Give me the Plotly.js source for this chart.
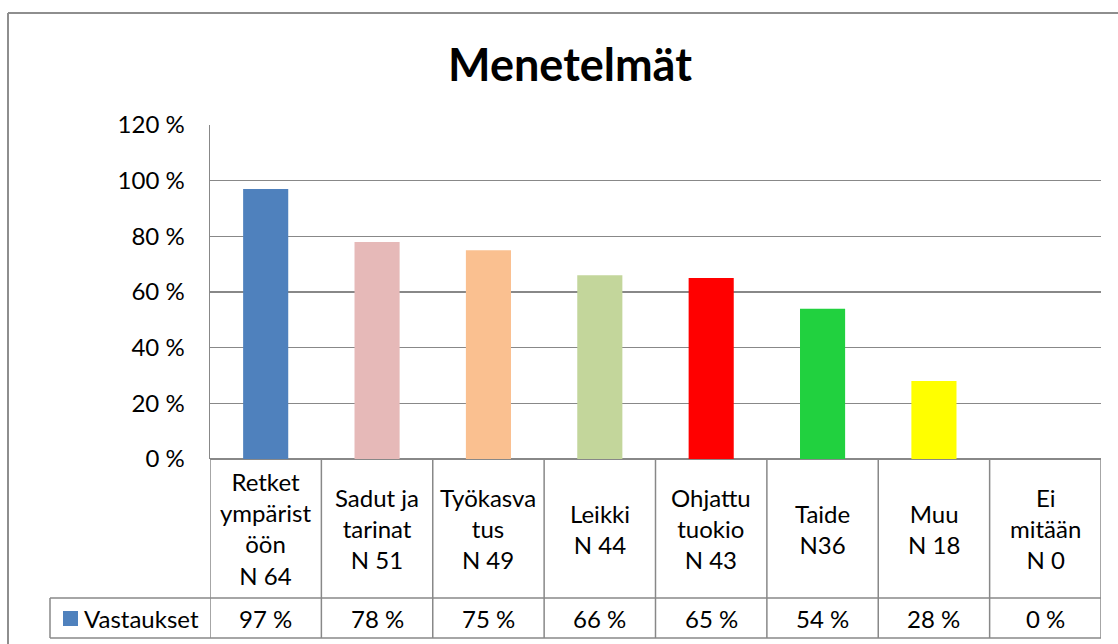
<!DOCTYPE html>
<html>
<head>
<meta charset="utf-8">
<script src="https://cdn.plot.ly/plotly-3.0.1.min.js"></script>
<style>html,body{margin:0;padding:0;background:#fff;}#chart{width:1118px;height:644px;}</style>
</head>
<body>
<div id="chart"></div>
<script>
const categories = ["Retket ympäristöön","Sadut ja tarinat","Työkasvatus","Leikki","Ohjattu tuokio","Taide","Muu","Ei mitään"];
const categoryLabels = ["Retket<br>ympärist<br>öön","Sadut ja<br>tarinat","Työkasva<br>tus","Leikki","Ohjattu<br>tuokio","Taide","Muu","Ei<br>mitään"];
const countLabels = ["N 64","N 51","N 49","N 44","N 43","N36","N 18","N 0"];
const values = [97,78,75,66,65,54,28,0];
const barColors = ["#4F81BD","#E6B9B8","#FAC090","#C3D69B","#FF0000","#21D13F","#FFFF00","#4F81BD"];
const seriesName = "Vastaukset";
const chartTitle = "Menetelmät";

const W = 1118, H = 644;
const L = 210, R = 1101, T = 125, B = 459;
const PX = p => (p - L) / (R - L);
const PY = p => (B - p) / (B - T);
const rowTop = B, rowMid = 598, rowBot = 638;
const lineCol = "#888888";
const font = "Lato, 'Open Sans', sans-serif";

const shapes = [];
const annotations = [];
// horizontal table lines
[rowMid, rowBot].forEach(p => shapes.push({type:"line", xref:"paper", yref:"paper", x0:PX(50), x1:1, y0:PY(p), y1:PY(p), line:{color:lineCol, width:1.5}}));
// vertical table lines
for (let i = 0; i <= categories.length; i++) {
  shapes.push({type:"line", xref:"x", yref:"paper", x0:i-0.5, x1:i-0.5, y0:PY(rowTop), y1:PY(rowBot), line:{color:lineCol, width:1.5}});
}
shapes.push({type:"line", xref:"paper", yref:"paper", x0:PX(50), x1:PX(50), y0:PY(rowMid), y1:PY(rowBot), line:{color:lineCol, width:1.5}});
// legend key
shapes.push({type:"rect", xref:"paper", yref:"paper", x0:PX(63), x1:PX(78), y0:PY(626), y1:PY(611), fillcolor:barColors[0], line:{width:0}});
// outer frame
shapes.push({type:"line", xref:"paper", yref:"paper", x0:PX(8), x1:PX(1120), y0:PY(13), y1:PY(13), line:{color:"#8e8e8e", width:2}});
shapes.push({type:"line", xref:"paper", yref:"paper", x0:PX(8), x1:PX(8), y0:PY(13), y1:PY(650), line:{color:"#8e8e8e", width:2}});

categories.forEach((c, i) => {
  annotations.push({xref:"x", yref:"paper", x:c, y:PY((rowTop+rowMid)/2), text:categoryLabels[i] + "<br>" + countLabels[i], showarrow:false, xanchor:"center", yanchor:"middle", align:"center", font:{family:font, size:24, color:"#000"}});
  annotations.push({xref:"x", yref:"paper", x:c, y:PY((rowMid+rowBot)/2), text:values[i] + " %", showarrow:false, xanchor:"center", yanchor:"middle", font:{family:font, size:24, color:"#000"}});
});
annotations.push({xref:"paper", yref:"paper", x:PX(82), y:PY((rowMid+rowBot)/2), text:seriesName, showarrow:false, xanchor:"left", yanchor:"middle", font:{family:font, size:24, color:"#000"}});

const trace = {type:"bar", x:categories, y:values, marker:{color:barColors}, name:seriesName, hoverinfo:"none"};

const layout = {
  width:W, height:H,
  margin:{l:L, r:W-R, t:T, b:H-B, pad:0},
  paper_bgcolor:"#fff", plot_bgcolor:"#fff",
  showlegend:false,
  bargap:0.595,
  title:{text:chartTitle, xref:"container", yref:"container", x:570/W, y:1-65/H, xanchor:"center", yanchor:"middle", font:{family:font, size:45, color:"#000", weight:"bold"}},
  xaxis:{showticklabels:false, showline:false, showgrid:false, zeroline:false, ticks:"", range:[-0.5, 7.5]},
  yaxis:{range:[0,120], dtick:20, ticksuffix:" %", showline:true, linecolor:lineCol, linewidth:1.5, gridcolor:lineCol, gridwidth:1.5, zeroline:true, zerolinecolor:lineCol, zerolinewidth:1.5, ticks:"", ticklabelstandoff:19, tickfont:{family:font, size:24, color:"#000"}, fixedrange:true},
  shapes:shapes,
  annotations:annotations
};
Plotly.newPlot("chart", [trace], layout, {staticPlot:true, displayModeBar:false});
</script>
</body>
</html>
